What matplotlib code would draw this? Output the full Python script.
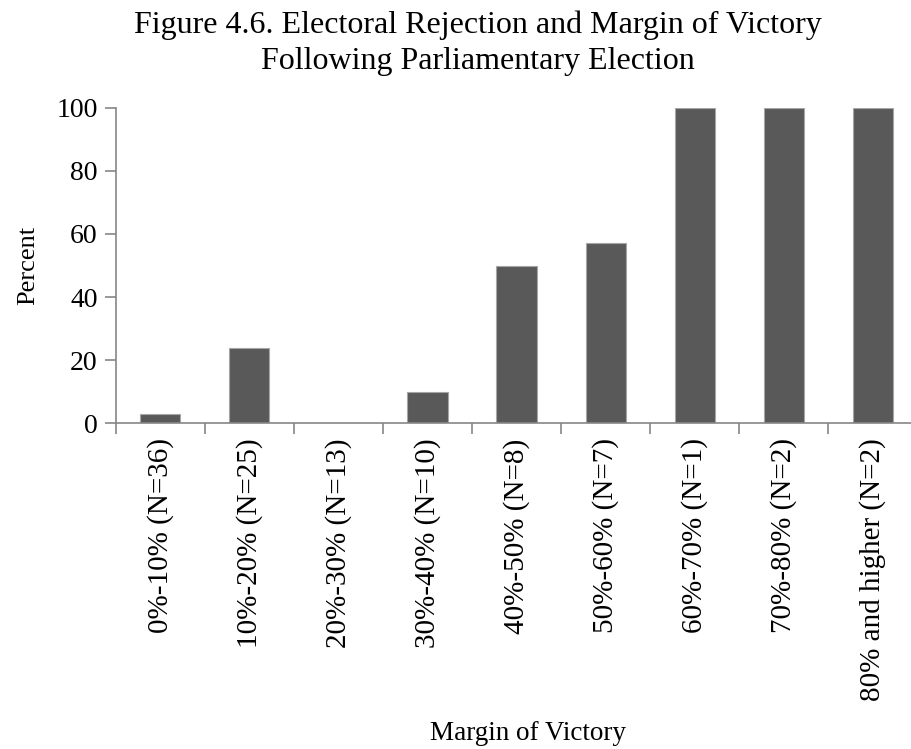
import numpy as np
import matplotlib.pyplot as plt

categories = ['0%-10% (N=36)', '10%-20% (N=25)', '20%-30% (N=13)',
              '30%-40% (N=10)', '40%-50% (N=8)', '50%-60% (N=7)',
              '60%-70% (N=1)', '70%-80% (N=2)', '80% and higher (N=2)']
percent = [2.8, 24, 0, 10, 50, 57.1, 100, 100, 100]
yticks = [0, 20, 40, 60, 80, 100]

plt.rcParams['font.family'] = ['Liberation Serif', 'DejaVu Serif']

fig = plt.figure(figsize=(9.11, 7.49), dpi=100)
# axis runs a little past the right edge, like the original
ax = fig.add_axes([0.127, 0.435, 0.88, 0.421])

x = np.arange(len(categories))
ax.bar(x, percent, width=0.45, color='#595959', edgecolor='#a6a6a6', linewidth=0.8)

ax.set_xlim(-0.5, len(categories) - 0.5)
ax.set_ylim(0, 100)
ax.set_yticks(yticks)
ax.set_xticks(x)
ax.set_xticklabels(categories, rotation=90, fontsize=21)
ax.set_xticks(np.arange(len(categories) + 1) - 0.5, minor=True)
ax.tick_params(axis='x', which='major', length=0, pad=11)
ax.tick_params(axis='x', which='minor', length=8, color='#868686', width=1.2)
ax.tick_params(axis='y', length=8, color='#868686', width=1.2, labelsize=20, pad=5)

for s in ['top', 'right']:
    ax.spines[s].set_visible(False)
for s in ['left', 'bottom']:
    ax.spines[s].set_color('#868686')
    ax.spines[s].set_linewidth(1.2)

ax.set_ylabel('Percent', fontsize=19, labelpad=12)
fig.text(0.58, 0.012, 'Margin of Victory', ha='center', va='baseline', fontsize=19.5)
fig.suptitle('Figure 4.6. Electoral Rejection and Margin of Victory\nFollowing Parliamentary Election',
             fontsize=23, x=0.525, y=0.986, linespacing=1.3)

fig.savefig('out.png', dpi=100)
